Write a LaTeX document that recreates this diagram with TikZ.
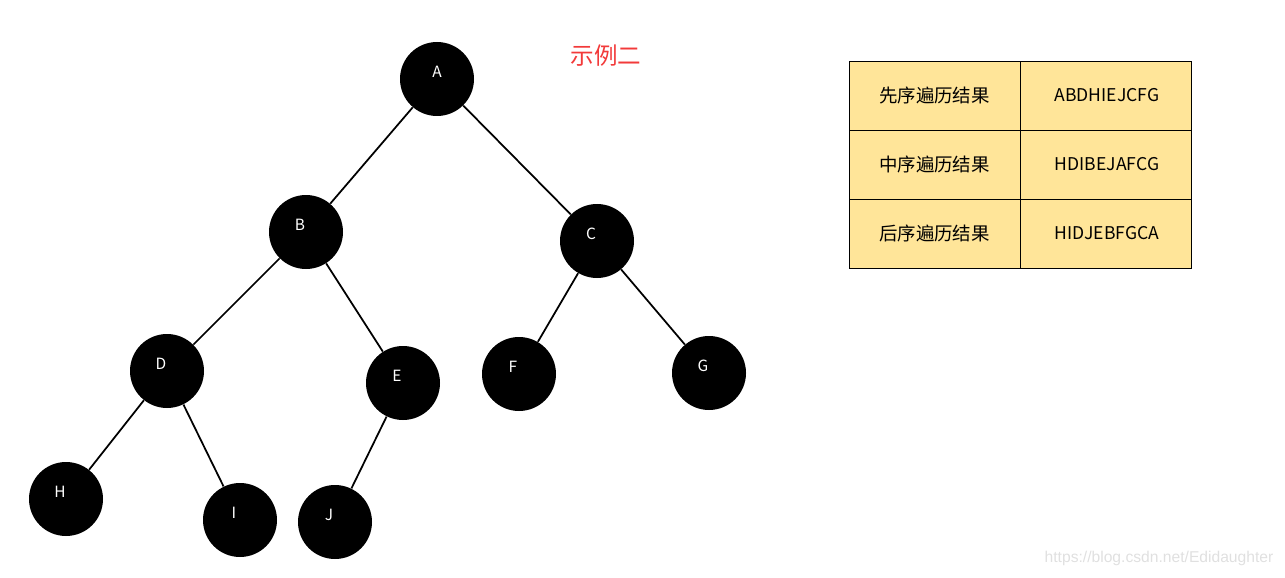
\documentclass[tikz,border=0pt]{standalone}
\usepackage{fontspec}
\setmainfont{Noto Sans CJK SC}
\newfontfamily\wmfont{Liberation Sans}
\definecolor{cellfill}{HTML}{FFE599}
\definecolor{titlered}{HTML}{F23A3A}
\begin{document}
\begin{tikzpicture}[
  treenode/.style={circle,fill=black,minimum size=1.48cm,inner sep=0pt},
  lbl/.style={white,font=\fontsize{8.8}{10}\selectfont,xshift=-0.12cm,yshift=0.14cm},
  edge/.style={line width=1pt},
  cell/.style={font=\fontsize{10.5}{12}\selectfont}]
  \useasboundingbox (0,0) rectangle (25.7,11.54);
  % tree
  \node[treenode,label={[lbl,xshift=0.12cm]center:A}] (A) at (8.74,9.96) {};
  \node[treenode,label={[lbl]center:B}] (B) at (6.12,6.90) {};
  \node[treenode,label={[lbl]center:C}] (C) at (11.94,6.72) {};
  \node[treenode,label={[lbl]center:D}] (D) at (3.34,4.12) {};
  \node[treenode,label={[lbl]center:E}] (E) at (8.06,3.88) {};
  \node[treenode,label={[lbl]center:F}] (F) at (10.38,4.06) {};
  \node[treenode,label={[lbl]center:G}] (G) at (14.18,4.08) {};
  \node[treenode,label={[lbl]center:H}] (H) at (1.32,1.56) {};
  \node[treenode,label={[lbl]center:I}] (I) at (4.80,1.14) {};
  \node[treenode,label={[lbl]center:J}] (J) at (6.70,1.10) {};
  \draw[edge] (A)--(B) (A)--(C) (B)--(D) (B)--(E) (C)--(F) (C)--(G)
    (D)--(H) (D)--(I) (E)--(J);
  \node[titlered,font=\fontsize{13.4}{15}\selectfont] (title) at (12.12,10.42) {示例二};
  % table
  \draw[fill=cellfill,line width=0.5pt] (16.98,6.18) rectangle (23.82,10.32);
  \draw[line width=0.5pt] (20.40,6.18)--(20.40,10.32)
    (16.98,8.94)--(23.82,8.94) (16.98,7.56)--(23.82,7.56);
  \node[cell] (pre) at (18.69,9.63) {先序遍历结果};
  \node[cell,font=\fontsize{10}{12}\selectfont] (preval) at (22.14,9.63) {ABDHIEJCFG};
  \node[cell] (in) at (18.69,8.25) {中序遍历结果};
  \node[cell,font=\fontsize{10}{12}\selectfont] (inval) at (22.14,8.25) {HDIBEJAFCG};
  \node[cell] (post) at (18.69,6.87) {后序遍历结果};
  \node[cell,font=\fontsize{10}{12}\selectfont] (postval) at (22.14,6.87) {HIDJEBFGCA};
  \node[black!12,font=\wmfont\fontsize{8.9}{10}\selectfont] (wm) at (23.18,0.38) {https://blog.csdn.net/Edidaughter};
\end{tikzpicture}
\end{document}
